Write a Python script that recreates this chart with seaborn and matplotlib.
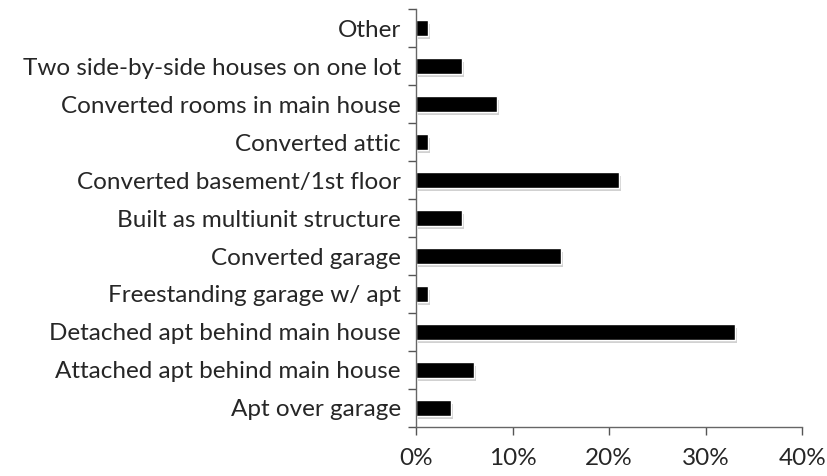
import numpy as np
import pandas as pd
import seaborn as sns
import matplotlib.pyplot as plt
import matplotlib.patheffects as pe

# tipos de vivienda (de arriba a abajo) y porcentajes
categories = ['Other', 'Two side-by-side houses on one lot', 'Converted rooms in main house',
              'Converted attic', 'Converted basement/1st floor', 'Built as multiunit structure',
              'Converted garage', 'Freestanding garage w/ apt', 'Detached apt behind main house',
              'Attached apt behind main house', 'Apt over garage']
values = [1.2, 4.8, 8.4, 1.2, 21.0, 4.8, 15.0, 1.2, 33.0, 6.0, 3.6]
xticks = [0, 10, 20, 30, 40]
xtick_labels = ['0%', '10%', '20%', '30%', '40%']

df = pd.DataFrame({'tipo': categories, 'pct': values})

sns.set_style('white')
plt.rcParams['font.family'] = ['Lato', 'DejaVu Sans']

fig = plt.figure(figsize=(8.27, 4.76), dpi=100)
ax = fig.add_axes([0.503, 0.103, 0.467, 0.878])
sns.barplot(data=df, x='pct', y='tipo', color='black', width=0.4, ax=ax)

for bar in ax.patches:
    bar.set_path_effects([pe.SimplePatchShadow(offset=(1.5, -2.5), shadow_rgbFace='#999999', alpha=0.45),
                          pe.Normal()])

ax.set_xlim(0, 40)
ax.set_ylim(10.5, -0.5)
ax.set_xticks(xticks)
ax.set_xticklabels(xtick_labels, fontsize=17.5)
ax.set_yticks(np.arange(-0.5, 11, 1), minor=True)
ax.tick_params(axis='y', which='major', length=0, pad=11, labelsize=17.5)
ax.tick_params(axis='y', which='minor', length=6, width=1, color='#555555', left=True)
ax.tick_params(axis='x', length=6, width=1, color='#555555', bottom=True, pad=9)
ax.set_xlabel('')
ax.set_ylabel('')
sns.despine(ax=ax)
for s in ['left', 'bottom']:
    ax.spines[s].set_color('#666666')
    ax.spines[s].set_linewidth(1)

plt.savefig('out.png', dpi=100)
